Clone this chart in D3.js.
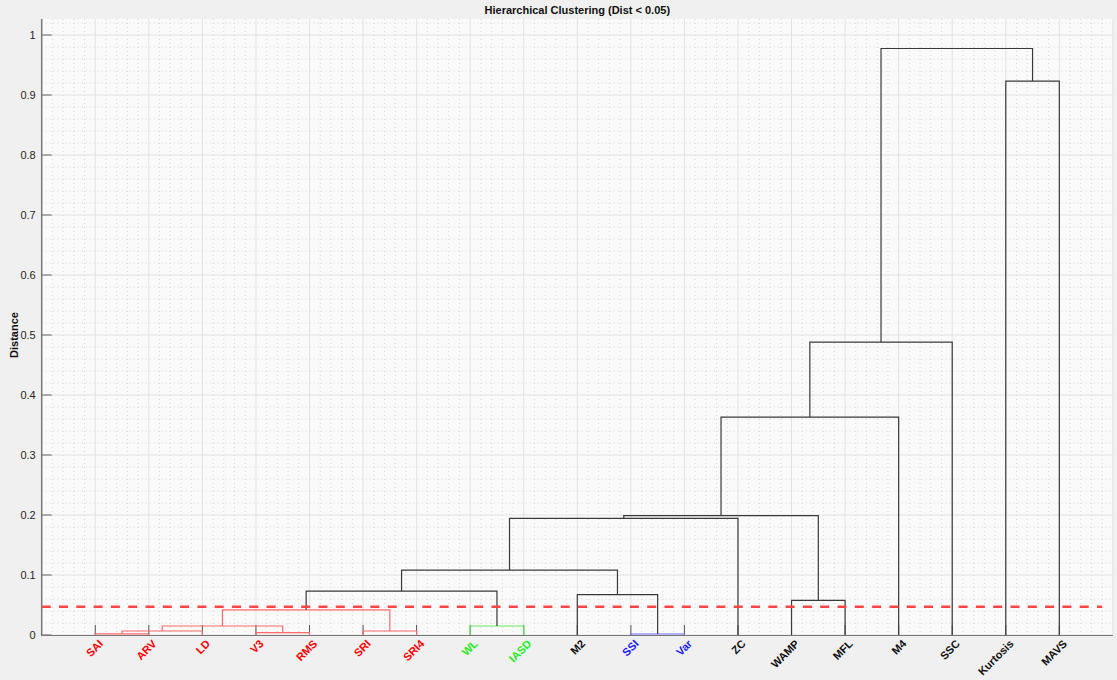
<!DOCTYPE html>
<html>
<head>
<meta charset="utf-8">
<script src="https://cdn.jsdelivr.net/npm/d3@7"></script>
<style>
  body { margin:0; background:#f0f0f0; font-family:"Liberation Sans", Arial, Helvetica, sans-serif; }
  svg { display:block; }
</style>
</head>
<body>
<svg id="svg"></svg>
<script>
// leaves in display order
var leaves = ["SAI","ARV","LD","V3","RMS","SRI","SRI4","WL","IASD","M2","SSI","Var","ZC","WAMP","MFL","M4","SSC","Kurtosis","MAVS"];
var leafColor = ["red","red","red","red","red","red","red","green","green","black","blue","blue","black","black","black","black","black","black","black"];

// linkage: [left node, right node, height, colour]  (new nodes numbered from 19)
var links = [
  [0, 1, 0.002, "red"],      // 19
  [19, 2, 0.0067, "red"],    // 20
  [3, 4, 0.004, "red"],      // 21
  [20, 21, 0.015, "red"],    // 22
  [5, 6, 0.0067, "red"],     // 23
  [22, 23, 0.042, "red"],    // 24
  [7, 8, 0.015, "green"],    // 25
  [24, 25, 0.073, "black"],  // 26
  [10, 11, 0.0017, "blue"],  // 27
  [9, 27, 0.0672, "black"],  // 28
  [26, 28, 0.108, "black"],  // 29
  [29, 12, 0.1945, "black"], // 30
  [13, 14, 0.0578, "black"], // 31
  [30, 31, 0.199, "black"],  // 32
  [32, 15, 0.363, "black"],  // 33
  [33, 16, 0.488, "black"],  // 34
  [17, 18, 0.9233, "black"], // 35
  [34, 35, 0.9775, "black"]  // 36
];
var yTicks = [0,0.1,0.2,0.3,0.4,0.5,0.6,0.7,0.8,0.9,1];
var cutoff = 0.047;
var title = "Hierarchical Clustering (Dist < 0.05)";

var W = 1117, H = 680;
var margin = {left:41.7, right:4.1, top:19, bottom:45};

var lineCol = {red:"#ff6a6a", green:"#5eea5e", blue:"#6a6aff", black:"#3a3a3a"};
var textCol = {red:"#ff0000", green:"#22ee22", blue:"#1a1aff", black:"#111"};

var svg = d3.select("#svg").attr("width", W).attr("height", H);

var x = d3.scaleLinear().domain([0, leaves.length+1]).range([margin.left, W-margin.right]);
var y = d3.scaleLinear().domain([0, 1.0267]).range([H-margin.bottom, margin.top]);

// plot background
svg.append("rect")
  .attr("x", x(0)).attr("y", y.range()[1])
  .attr("width", x.range()[1]-x(0)).attr("height", y(0)-y.range()[1])
  .attr("fill", "#fafafa")

var grid = svg.append("g").attr("class","grid")
// minor grid
var minorX = d3.range(1, (leaves.length+1)*5).filter(d=>d%5!==0).map(d=>d/5)
var minorY = d3.range(1, 52).filter(d=>d%5!==0).map(d=>d/50)
grid.selectAll(".mx").data(minorX).enter().append("line")
  .attr("x1", d=>x(d)).attr("x2", d=>x(d))
  .attr("y1", y.range()[1]).attr("y2", y(0))
  .attr("stroke","#d6d6d6").attr("stroke-width",1).attr("stroke-dasharray","1,3")
grid.selectAll(".my").data(minorY).enter().append("line")
  .attr("y1", d=>y(d)).attr("y2", d=>y(d))
  .attr("x1", x(0)).attr("x2", x.range()[1])
  .attr("stroke","#d6d6d6").attr("stroke-width",1).attr("stroke-dasharray","1,3")
// major grid
grid.selectAll(".gx").data(d3.range(1, leaves.length+2)).enter().append("line")
  .attr("x1", d=>x(d)).attr("x2", d=>x(d))
  .attr("y1", y.range()[1]).attr("y2", y(0))
  .attr("stroke","#e2e2e2").attr("stroke-width",1)
grid.selectAll(".gy").data(yTicks).enter().append("line")
  .attr("y1", d=>y(d)).attr("y2", d=>y(d))
  .attr("x1", x(0)).attr("x2", x.range()[1])
  .attr("stroke","#e2e2e2").attr("stroke-width",1)

// axes
var yAxis = d3.axisLeft(y).tickValues(yTicks).tickSize(0).tickPadding(6).tickFormat(d3.format("~g"))
var yG = svg.append("g").attr("transform", `translate(${x(0)},0)`).call(yAxis)
yG.select(".domain").remove()
yG.selectAll("text").style("font-size","11px").attr("fill","#262626").style("font-family","Liberation Sans, Arial")
svg.append("g").selectAll("line").data(yTicks).enter().append("line")
  .attr("x1", x(0)).attr("x2", x(0)+10)
  .attr("y1", d=>y(d)).attr("y2", d=>y(d))
  .attr("stroke","#666").attr("stroke-width",1)

svg.append("line").attr("x1", x(0)).attr("x2", x(0)).attr("y1", y.range()[1]).attr("y2", y(0)+1)
  .attr("stroke","#777").attr("stroke-width",1.5)
svg.append("line").attr("x1", x(0)).attr("x2", x.range()[1]).attr("y1", y(0)+0.5).attr("y2", y(0)+0.5)
  .attr("stroke","#777").attr("stroke-width",1.2)

// leaf tick marks
svg.append("g").selectAll("line").data(leaves).enter().append("line")
  .attr("x1", (d,i)=>x(i+1)).attr("x2", (d,i)=>x(i+1))
  .attr("y1", y(0)).attr("y2", y(0)-10)
  .attr("stroke","#555").attr("stroke-width",1)

// build node positions
var nodeX = leaves.map((d,i)=>i+1)
var nodeH = leaves.map(()=>0)
links.forEach(function(l){
  nodeX.push((nodeX[l[0]]+nodeX[l[1]])/2)
  nodeH.push(l[2])
})

svg.append("g").attr("class","links")
  .selectAll("path").data(links).enter().append("path")
  .attr("d", function(l){
    var xa=x(nodeX[l[0]]), xb=x(nodeX[l[1]]), ya=y(nodeH[l[0]]), yb=y(nodeH[l[1]]), yt=y(l[2])
    return `M${xa},${ya}V${yt}H${xb}V${yb}`
  })
  .attr("fill","none")
  .attr("stroke", l=>lineCol[l[3]])
  .attr("stroke-width", 1.2)

// cutoff line
svg.append("line")
  .attr("x1", x(0)).attr("x2", x(19.8))
  .attr("y1", y(cutoff)).attr("y2", y(cutoff))
  .attr("stroke","#ff4545").attr("stroke-width",2.6)
  .attr("stroke-dasharray","9,8.3")

// leaf labels
svg.append("g").selectAll("text").data(leaves).enter().append("text")
  .attr("transform", (d,i)=>`translate(${x(i+1)+3},${y(0)+4}) rotate(-45)`)
  .attr("text-anchor","end")
  .attr("dy","0.7em")
  .style("font-size","11px").style("font-weight",700)
  .attr("fill", (d,i)=>textCol[leafColor[i]])
  .text(d=>d)

// title and y label
svg.append("text")
  .attr("x", (x(0)+x.range()[1])/2).attr("y", 14)
  .attr("text-anchor","middle")
  .style("font-size","11px").style("font-weight",700).attr("fill","#111")
  .text(title)

svg.append("text")
  .attr("transform", `translate(18,${y(0.5)}) rotate(-90)`)
  .attr("text-anchor","middle")
  .style("font-size","11px").style("font-weight",700).attr("fill","#111")
  .text("Distance")
</script>
</body>
</html>
